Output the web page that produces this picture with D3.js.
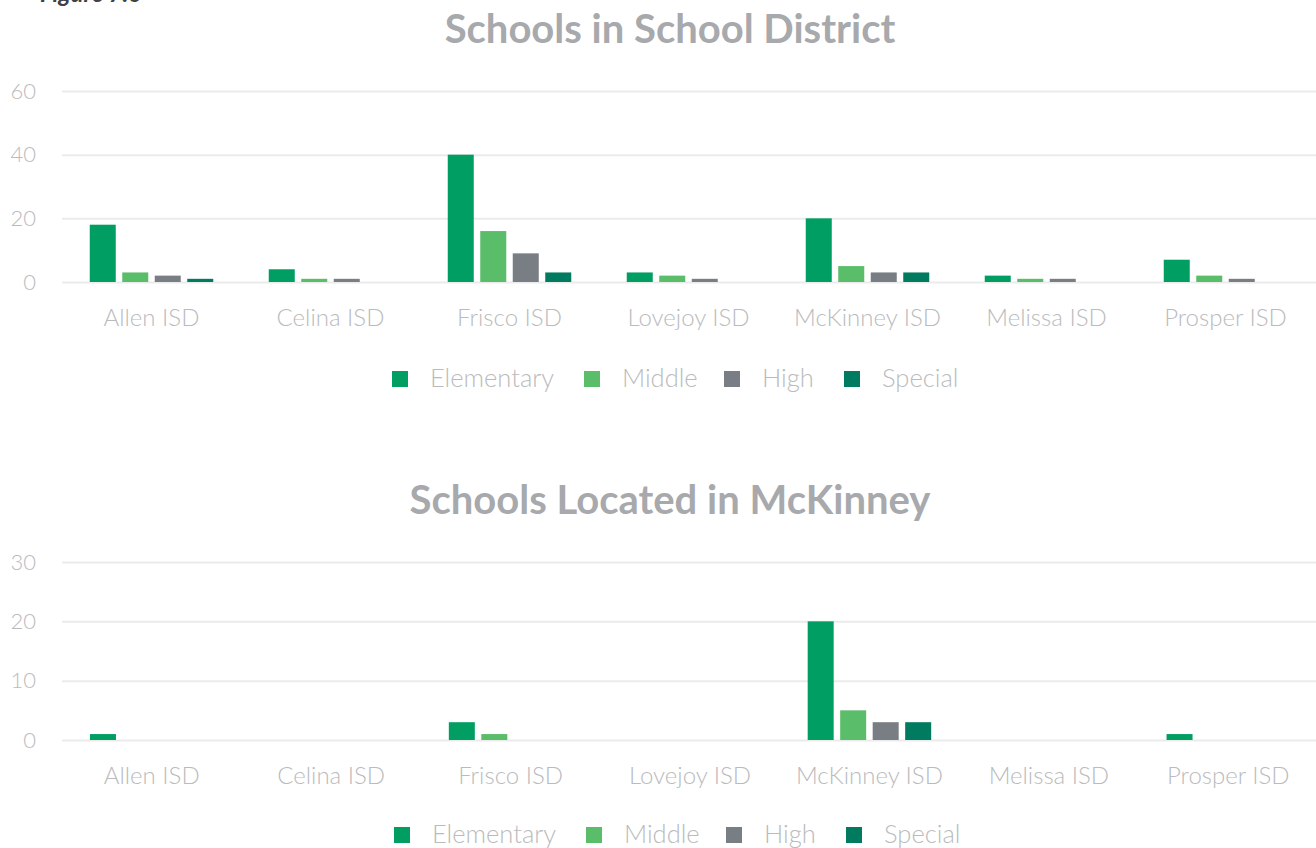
<!DOCTYPE html>
<html>
<head>
<meta charset="utf-8">
<script src="https://cdn.jsdelivr.net/npm/d3@7"></script>
<style>
  body { margin: 0; background: #fff; }
  svg { display: block; }
  .title { font-family: Lato, sans-serif; font-weight: 700; fill: #a7a9ac; }
  .tick text, .axisLabel, .legendText { font-family: Lato, sans-serif; font-weight: 300; fill: #b9bbbd; }
</style>
</head>
<body>
<div id="chart"></div>
<script>
// data
var districts = ["Allen ISD", "Celina ISD", "Frisco ISD", "Lovejoy ISD", "McKinney ISD", "Melissa ISD", "Prosper ISD"];
var schoolTypes = ["Elementary", "Middle", "High", "Special"];
var typeColors = ["#009e63", "#5abd6a", "#787e83", "#007b5f"];

// schools in each district
var districtElementary = [18, 4, 40, 3, 20, 2, 7];
var districtMiddle = [3, 1, 16, 2, 5, 1, 2];
var districtHigh = [2, 1, 9, 1, 3, 1, 1];
var districtSpecial = [1, 0, 3, 0, 3, 0, 0];
var districtTicks = [0, 20, 40, 60];

// schools located in McKinney
var mckElementary = [1, 0, 3, 0, 20, 0, 1];
var mckMiddle = [0, 0, 1, 0, 5, 0, 0];
var mckHigh = [0, 0, 0, 0, 3, 0, 0];
var mckSpecial = [0, 0, 0, 0, 3, 0, 0];
var mckTicks = [0, 10, 20, 30];

var svgWidth = 1316;
var svgHeight = 848;

var svg = d3.select("#chart")
  .append("svg")
  .attr("width", svgWidth)
  .attr("height", svgHeight);

// figure label, cut off at the top like the source page
svg.append("text")
  .attr("x", 40)
  .attr("y", 2)
  .attr("font-family", "Lato, sans-serif")
  .attr("font-weight", 700)
  .attr("font-style", "italic")
  .attr("font-size", 24)
  .attr("fill", "#414042")
  .text("Figure 7.6");

function drawChart(opts) {
  var rows = districts.map(function(d, i) {
    return {district: d, values: opts.series.map(function(s) { return s[i]; })};
  });

  var x0 = d3.scaleBand()
    .domain(districts)
    .range([opts.left, opts.right]);

  var groupWidth = 123.5;
  var x1 = d3.scaleBand()
    .domain(schoolTypes)
    .range([0, groupWidth])
    .paddingInner(0.2);

  var y = d3.scaleLinear()
    .domain([0, opts.max])
    .range([opts.zeroY, opts.topY]);

  var g = svg.append("g");

  // title
  g.append("text")
    .attr("class", "title")
    .attr("x", 670)
    .attr("y", opts.titleY)
    .attr("text-anchor", "middle")
    .attr("font-size", 40)
    .text(opts.title);

  // gridlines + y labels
  var yAxis = d3.axisLeft(y)
    .tickValues(opts.ticks)
    .tickSize(-(svgWidth - opts.left))
    .tickPadding(26);

  var yg = g.append("g")
    .attr("transform", `translate(${opts.left}, 0)`)
    .call(yAxis);
  yg.select(".domain").remove();
  yg.selectAll(".tick line").attr("stroke", "#ebebeb").attr("stroke-width", 2);
  yg.selectAll(".tick text").attr("font-size", 22);

  // bars
  var groups = g.selectAll(".group")
    .data(rows)
    .enter()
    .append("g")
    .attr("transform", d => `translate(${x0(d.district) + x0.bandwidth() / 2 - groupWidth / 2}, 0)`);

  groups.selectAll("rect")
    .data(d => d.values.map((v, i) => ({type: schoolTypes[i], value: v, color: typeColors[i]})))
    .enter()
    .append("rect")
    .attr("x", d => x1(d.type))
    .attr("width", x1.bandwidth())
    .attr("y", d => y(d.value))
    .attr("height", d => opts.zeroY - y(d.value))
    .attr("fill", d => d.color);

  // category axis
  var xAxis = d3.axisBottom(x0).tickSize(0).tickPadding(0);
  var xg = g.append("g")
    .attr("transform", `translate(0, ${opts.labelY})`)
    .call(xAxis);
  xg.select(".domain").remove();
  xg.selectAll(".tick text").attr("font-size", 24).attr("dy", 0);

  // legend
  var legendX = [opts.legendX, opts.legendX + 192, opts.legendX + 332, opts.legendX + 452];
  var legend = g.selectAll(".legend")
    .data(schoolTypes)
    .enter()
    .append("g")
    .attr("transform", (d, i) => `translate(${legendX[i]}, ${opts.legendY})`);

  legend.append("rect")
    .attr("x", 0)
    .attr("y", -16)
    .attr("width", 16)
    .attr("height", 16)
    .attr("fill", (d, i) => typeColors[i]);

  legend.append("text")
    .attr("class", "legendText")
    .attr("x", 38)
    .attr("y", 0)
    .attr("font-size", 25.5)
    .text(d => d);
}

drawChart({
  title: "Schools in School District",
  titleY: 43,
  series: [districtElementary, districtMiddle, districtHigh, districtSpecial],
  max: 60,
  ticks: districtTicks,
  left: 62,
  right: 1315,
  zeroY: 282,
  topY: 91,
  labelY: 326,
  legendX: 392,
  legendY: 387
});

drawChart({
  title: "Schools Located in McKinney",
  titleY: 514,
  series: [mckElementary, mckMiddle, mckHigh, mckSpecial],
  max: 30,
  ticks: mckTicks,
  left: 62,
  right: 1318,
  zeroY: 740,
  topY: 562,
  labelY: 784,
  legendX: 394,
  legendY: 843
});
</script>
</body>
</html>
